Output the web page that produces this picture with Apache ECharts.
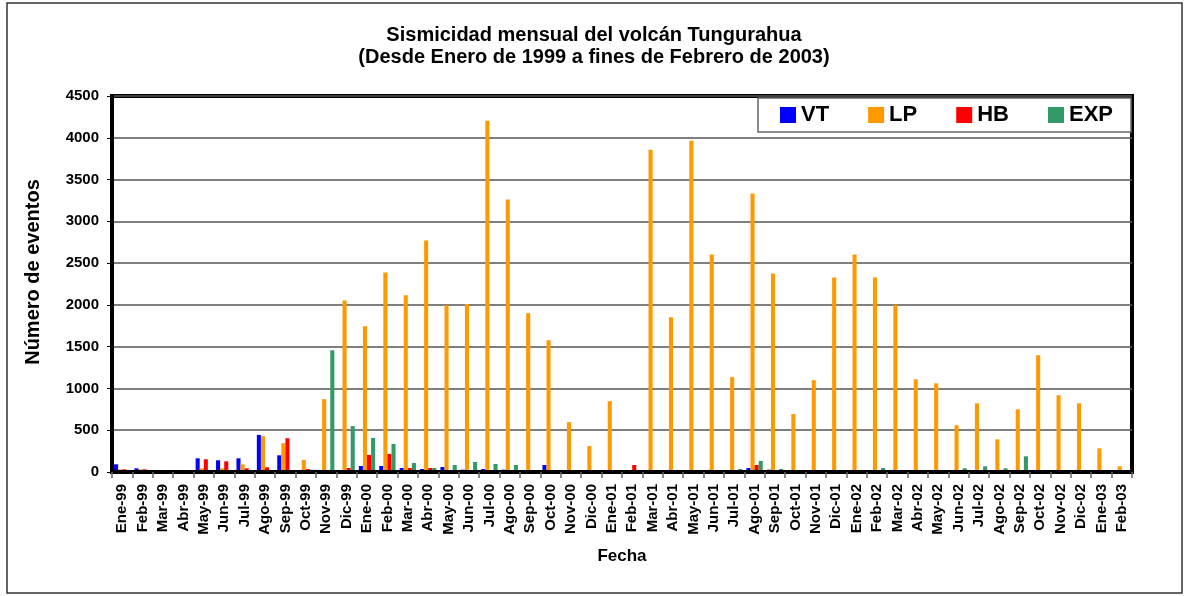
<!DOCTYPE html>
<html>
<head>
<meta charset="utf-8">
<script src="https://cdn.jsdelivr.net/npm/echarts@6/dist/echarts.min.js"></script>
<style>
  html, body { margin: 0; padding: 0; background: #fff; }
  #chart { width: 1188px; height: 596px; }
</style>
</head>
<body>
<div id="chart"></div>
<script>
// meses, Ene-99 .. Feb-03
const months = [
  'Ene-99', 'Feb-99', 'Mar-99', 'Abr-99', 'May-99', 'Jun-99', 'Jul-99', 'Ago-99', 'Sep-99', 'Oct-99', 'Nov-99', 'Dic-99',
  'Ene-00', 'Feb-00', 'Mar-00', 'Abr-00', 'May-00', 'Jun-00', 'Jul-00', 'Ago-00', 'Sep-00', 'Oct-00', 'Nov-00', 'Dic-00',
  'Ene-01', 'Feb-01', 'Mar-01', 'Abr-01', 'May-01', 'Jun-01', 'Jul-01', 'Ago-01', 'Sep-01', 'Oct-01', 'Nov-01', 'Dic-01',
  'Ene-02', 'Feb-02', 'Mar-02', 'Abr-02', 'May-02', 'Jun-02', 'Jul-02', 'Ago-02', 'Sep-02', 'Oct-02', 'Nov-02', 'Dic-02',
  'Ene-03', 'Feb-03'
];

const vt = [
  92, 44, 20, 20, 164, 140, 164, 444, 200, 24, 12, 24,
  72, 72, 48, 36, 60, 28, 36, 28, 12, 84, 12, 12,
  12, 12, 0, 0, 0, 0, 0, 48, 28, 12, 0, 12,
  5, 0, 0, 0, 0, 0, 0, 0, 0, 0, 0, 0,
  0, 0
];

const lp = [
  32, 32, 8, 0, 44, 44, 92, 428, 344, 144, 872, 2054,
  1744, 2389, 2114, 2771, 1995, 2010, 4204, 3260, 1899, 1576, 597, 310,
  848, 0, 3858, 1851, 3965, 2604, 1135, 3332, 2377, 693, 1099, 2329,
  2604, 2329, 2003, 1109, 1061, 559, 822, 391, 750, 1397, 918, 822,
  283, 68
];

const hb = [
  32, 32, 8, 0, 152, 128, 44, 56, 404, 36, 12, 48,
  204, 216, 48, 48, 6, 0, 5, 5, 0, 0, 0, 0,
  0, 84, 0, 0, 0, 24, 0, 84, 0, 0, 0, 5,
  0, 0, 0, 0, 0, 0, 8, 0, 0, 0, 0, 0,
  0, 0
];

const exp = [
  0, 0, 0, 0, 0, 0, 0, 0, 0, 28, 1457, 549,
  408, 336, 108, 48, 84, 120, 96, 84, 12, 12, 0, 0,
  0, 12, 0, 0, 0, 12, 36, 132, 36, 0, 0, 0,
  5, 48, 24, 0, 24, 44, 68, 44, 188, 8, 0, 0,
  0, 0
];

const yTicks = [0, 500, 1000, 1500, 2000, 2500, 3000, 3500, 4000, 4500];

const font = 'Liberation Sans, Arial, sans-serif';

const chart = echarts.init(document.getElementById('chart'), null, { renderer: 'canvas' });

const barSeries = (name, data, color) => ({
  name: name,
  type: 'bar',
  data: data,
  barGap: '0%',
  barCategoryGap: '20%',
  itemStyle: { color: color },
  z: 2
});

const option = {
  animation: false,
  backgroundColor: '#fff',
  textStyle: { fontFamily: font },
  title: {
    text: 'Sismicidad mensual del volcán Tungurahua\n(Desde Enero de 1999 a fines de Febrero de 2003)',
    left: 'center',
    top: 19,
    textStyle: { fontFamily: font, fontSize: 20, fontWeight: 'bold', color: '#000', lineHeight: 22 }
  },
  graphic: [{
    type: 'rect',
    shape: { x: 7, y: 3, width: 1175, height: 590 },
    style: { fill: 'none', stroke: '#333', lineWidth: 1.5 },
    silent: true
  }],
  legend: {
    left: 758,
    top: 98,
    padding: [6, 18, 6, 22],
    itemGap: 39,
    itemWidth: 16,
    itemHeight: 16,
    backgroundColor: '#fff',
    borderColor: '#666',
    borderWidth: 1.5,
    icon: 'rect',
    textStyle: { fontFamily: font, fontSize: 22, fontWeight: 'bold', color: '#000' },
    data: ['VT', 'LP', 'HB', 'EXP'],
    z: 10
  },
  grid: {
    left: 112,
    right: 56,
    top: 96,
    bottom: 124,
    show: true,
    borderColor: '#000',
    borderWidth: 4
  },
  xAxis: {
    type: 'category',
    data: months,
    name: 'Fecha',
    nameLocation: 'middle',
    nameGap: 76,
    nameTextStyle: { fontFamily: font, fontSize: 17, fontWeight: 'bold', color: '#000' },
    axisLine: { show: true, lineStyle: { color: '#000', width: 4 } },
    axisTick: { show: true, length: 6, interval: 0, lineStyle: { color: '#666', width: 1.5 } },
    axisLabel: {
      interval: 0,
      rotate: 90,
      margin: 12,
      fontFamily: font,
      fontSize: 15,
      fontWeight: 'bold',
      color: '#000'
    },
    z: 5
  },
  yAxis: {
    type: 'value',
    min: 0,
    max: 4500,
    interval: 500,
    name: 'Número de eventos',
    nameLocation: 'middle',
    nameGap: 69,
    nameTextStyle: { fontFamily: font, fontSize: 20, fontWeight: 'bold', color: '#000', padding: [0, 0, 0, 24] },
    axisLine: { show: true, lineStyle: { color: '#000', width: 4 } },
    axisTick: { show: true, length: 5, lineStyle: { color: '#000', width: 1 } },
    axisLabel: {
      margin: 13,
      fontFamily: font,
      fontSize: 15,
      fontWeight: 'bold',
      color: '#000',
      formatter: v => (yTicks.indexOf(v) >= 0 ? String(v) : '')
    },
    splitLine: { show: true, lineStyle: { color: '#555', width: 1.5 } }
  },
  series: [
    barSeries('VT', vt, '#0000FF'),
    barSeries('LP', lp, '#FF9900'),
    barSeries('HB', hb, '#FF0000'),
    barSeries('EXP', exp, '#339966')
  ]
};

chart.setOption(option);
</script>
</body>
</html>
